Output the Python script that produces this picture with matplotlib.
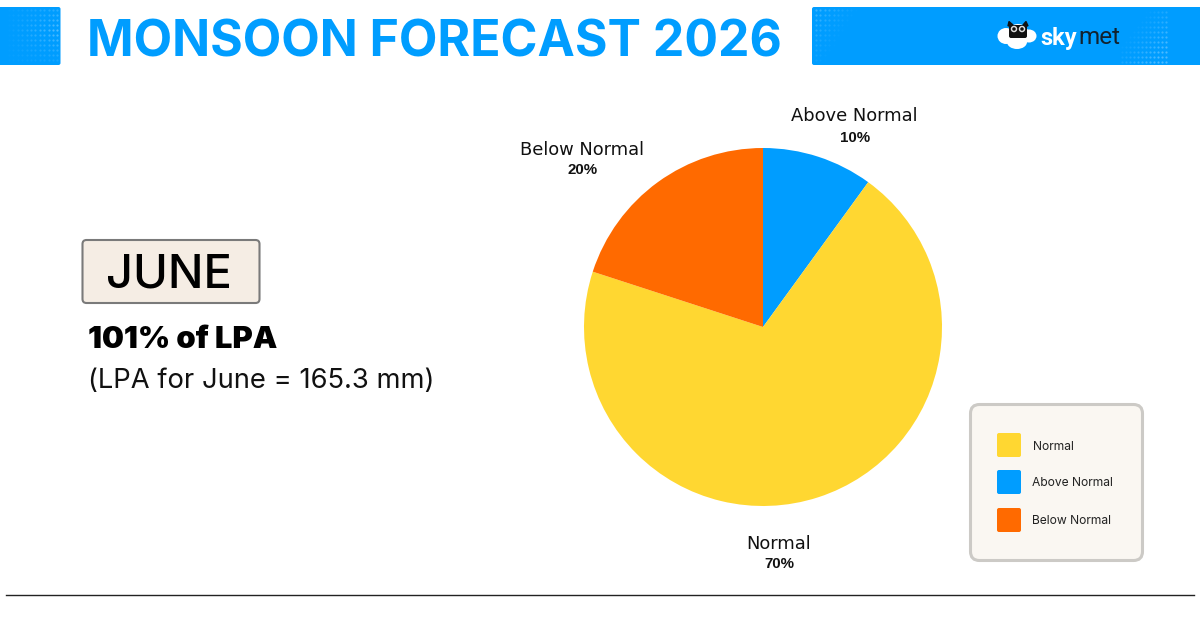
import matplotlib
matplotlib.use("Agg")
import matplotlib.pyplot as plt
from matplotlib.patches import FancyBboxPatch, Ellipse, Rectangle

W, H = 1200, 630
title = "MONSOON FORECAST 2026"
month = "JUNE"
lpa_pct = "101% of LPA"
lpa_note = "(LPA for June = 165.3 mm)"
categories = ["Normal", "Above Normal", "Below Normal"]
values = [70, 10, 20]
colors = ["#FFD731", "#009DFF", "#FF6A00"]
BLUE = "#009DFF"

fig = plt.figure(figsize=(W / 100, H / 100), dpi=100, facecolor="white")
bg = fig.add_axes([0, 0, 1, 1])
bg.set_xlim(0, W)
bg.set_ylim(H, 0)
bg.axis("off")

def box(x0, y0, x1, y1, r, fc, ec="none", lw=0, z=1):
    bg.add_patch(FancyBboxPatch((x0 + r, y0 + r), x1 - x0 - 2 * r, y1 - y0 - 2 * r,
                                boxstyle=f"round,pad={r},rounding_size={r}",
                                fc=fc, ec=ec, lw=lw, zorder=z))

# Header bands
bg.add_patch(Rectangle((0, 7), 58, 58, fc=BLUE, ec="none"))
box(50, 7, 60.5, 65, 2, BLUE)
box(812, 7, 1200, 65, 2, BLUE)
bg.add_patch(Rectangle((1190, 7), 10, 58, fc=BLUE, ec="none"))

# Halftone decoration
for i in range(12):
    for j in range(11):
        a = 0.02 + 0.028 * i * (1 - abs(j - 4) / 8)
        bg.plot(9 + i * 4.4, 10 + j * 5, "o", ms=1.6, mfc="white", mec="none", alpha=a)
        a2 = max(0, 0.24 - 0.025 * i - 0.018 * j)
        bg.plot(816 + i * 4.4, 10 + j * 5, "o", ms=1.6, mfc="white", mec="none", alpha=a2)
        a3 = max(0, 0.025 * i + 0.024 * j - 0.14)
        bg.plot(1122 + i * 4.0, 12 + j * 5, "o", ms=1.6, mfc="white", mec="none", alpha=min(a3, .3))

fig.text(434 / W, 1 - 38 / H, title, color=BLUE, fontsize=36, fontweight="bold",
         family="Inter", ha="center", va="center_baseline")

# Skymet logo
for cx, cy, w_, h_ in [(1006, 36, 17, 16), (1018, 35, 22, 22), (1029, 36, 15, 13), (1017, 42, 20, 14)]:
    bg.add_patch(Ellipse((cx, cy), w_, h_, fc="white", ec="none", zorder=3))
bg.add_patch(FancyBboxPatch((1010, 26), 16, 11, boxstyle="round,pad=1,rounding_size=2", fc="#111111", ec="none", zorder=4))
bg.fill([1008, 1009, 1013], [26, 21.5, 25], color="#111111", zorder=4)
bg.fill([1023, 1026, 1028], [25, 21.5, 26], color="#111111", zorder=4)
for cx in (1014, 1022):
    bg.add_patch(Ellipse((cx, 29), 6.5, 6.5, fc="#DDDDDD", ec="none", zorder=5))
    bg.add_patch(Ellipse((cx, 29), 3.5, 3.5, fc="#111111", ec="none", zorder=6))
bg.text(1040, 38, "sky", color="white", fontsize=17, fontweight="bold", family="Roboto", va="center", zorder=5)
bg.text(1078, 38, "met", color="#12222E", fontsize=17.5, family="Roboto", va="center", zorder=5)

# Left block
box(82.5, 240, 259.5, 303, 4, "#F5EDE4", "#7A7A7A", 1.5)
bg.text(168.5, 271, month, fontsize=34, fontweight="medium", family="Inter", color="black", ha="center", va="center_baseline")
bg.text(88, 337, lpa_pct, fontsize=22.3, fontweight="black", family="Inter", color="black", ha="left", va="center_baseline")
bg.text(88, 378, lpa_note, fontsize=19.7, family="Inter", color="#111111", ha="left", va="center_baseline")

# Pie
R = 179
cx, cy = 763, 327
ax = fig.add_axes([(cx - R) / W, 1 - (cy + R) / H, 2 * R / W, 2 * R / H])
# clockwise from the top: Above Normal, Normal, Below Normal
order = [1, 0, 2]
ax.pie([values[i] for i in order], colors=[colors[i] for i in order],
       startangle=90, counterclock=False, radius=1, wedgeprops={"linewidth": 0})
ax.set_xlim(-1, 1)
ax.set_ylim(-1, 1)

# Pie labels
label_pos = {"Above Normal": (854.5, 114, 137), "Below Normal": (582.5, 148, 169), "Normal": (779, 542, 563)}
for name, val in zip(categories, values):
    x, y1, y2 = label_pos[name]
    bg.text(x, y1, name, fontsize=12.9, family="DejaVu Sans", color="#111111", ha="center", va="center_baseline")
    bg.text(x + 0.5, y2, f"{val}%", fontsize=10.8, fontweight="bold", family="Liberation Sans", color="#111111", ha="center", va="center_baseline")

# Legend
box(970.5, 404.5, 1142.5, 560.5, 9, "#FAF7F2", "#CCCAC6", 2.2)
for name, col, y in zip(categories, colors, [445, 482, 520]):
    box(997, y - 12, 1021, y + 12, 2, col)
    bg.text(1032.5, y, name, fontsize=8.7, family="Inter", color="#222222", ha="left", va="center_baseline")

# Rule
bg.plot([6, 1194], [594.8, 594.8], color="#222222", lw=1)

fig.savefig("out.png", dpi=100)
